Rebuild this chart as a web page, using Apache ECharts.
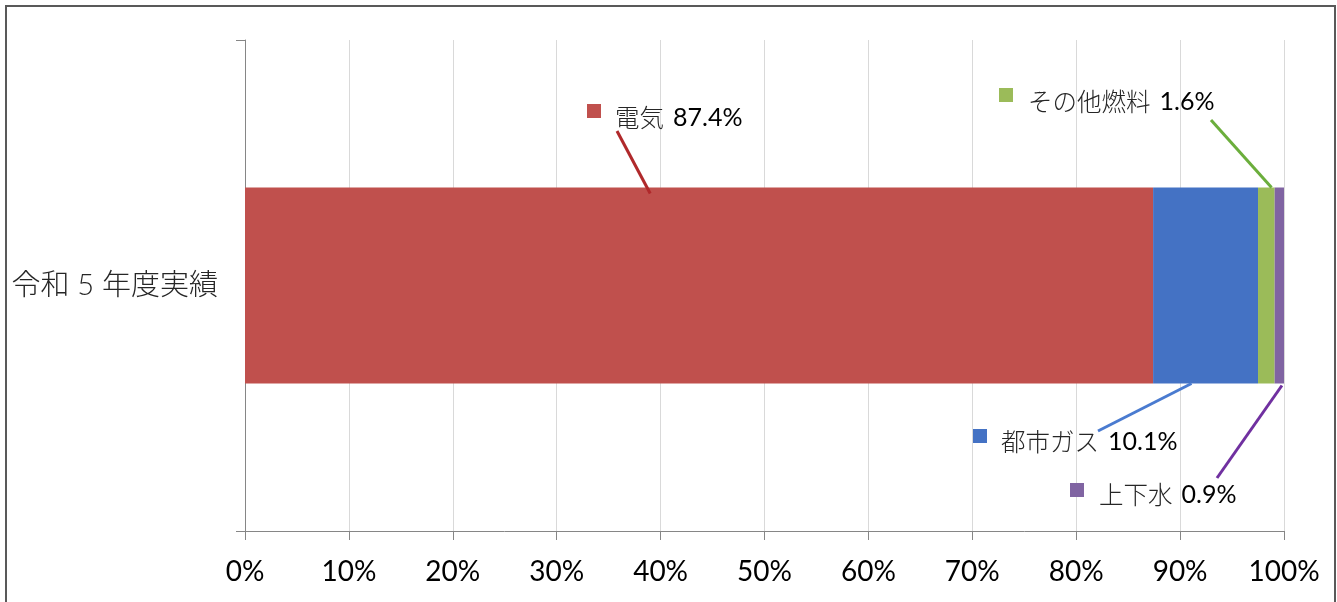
<!DOCTYPE html>
<html>
<head>
<meta charset="utf-8">
<script src="https://cdn.jsdelivr.net/npm/echarts@6/dist/echarts.min.js"></script>
<style>
  html, body { margin: 0; padding: 0; background: #fff; }
  #chart { width: 1337px; height: 602px; }
</style>
</head>
<body>
<div id="chart"></div>
<script>
// ---- data ----
const categories = ['令和 5 年度実績'];
const seriesNames = ['電気', '都市ガス', 'その他燃料', '上下水'];
const seriesValues = [[87.4], [10.1], [1.6], [0.9]];
const seriesColors = ['#C0504D', '#4472C4', '#9BBB59', '#8064A2'];
const leaderColors = ['#B0292B', '#4A7BD0', '#6BAE3C', '#7030A0'];

// ---- callout layout (pixel placement of each label box, and where its leader meets the bar) ----
const BAR_HEIGHT = 196;
const calloutLayout = [
  // marker box left/top, text left/middle, leader start, leader end (axis value, bar edge, inset)
  { mx: 587,  my: 104, tx: 615,  ty: 118, sx: 617,  sy: 131, at: 39.0, edge: 'top',    inset: 6 },
  { mx: 973,  my: 429, tx: 1001, ty: 442, sx: 1098, sy: 431, at: 91.1, edge: 'bottom', inset: 0 },
  { mx: 999,  my: 88,  tx: 1028, ty: 102, sx: 1211, sy: 120, at: 98.8, edge: 'top',    inset: 0 },
  { mx: 1070, my: 483, tx: 1099, ty: 495, sx: 1217, sy: 478, at: 99.8, edge: 'bottom', inset: 2 }
];

const FONT = "Lato, 'Noto Sans CJK JP', sans-serif";
const JP_FONT = "'Noto Sans CJK JP', sans-serif";

const chart = echarts.init(document.getElementById('chart'), null, { renderer: 'canvas' });

const option = {
  animation: false,
  backgroundColor: '#ffffff',
  grid: { left: 245, right: 53, top: 40, bottom: 71, containLabel: false },
  xAxis: {
    type: 'value',
    min: 0,
    max: 100,
    interval: 10,
    axisLine: { show: true, lineStyle: { color: '#868686', width: 1 } },
    axisTick: { show: true, length: 9, lineStyle: { color: '#868686' } },
    splitLine: { show: true, lineStyle: { color: '#D9D9D9', width: 1 } },
    axisLabel: {
      formatter: '{value}%',
      fontFamily: FONT,
      fontSize: 28,
      color: '#000000',
      margin: 27
    }
  },
  yAxis: {
    type: 'category',
    data: categories,
    axisLine: { show: true, lineStyle: { color: '#868686', width: 1 } },
    axisTick: { show: true, length: 9, lineStyle: { color: '#868686' } },
    axisLabel: {
      fontFamily: FONT,
      fontWeight: 300,
      fontSize: 29,
      color: '#262626',
      margin: 27
    }
  },
  series: seriesNames.map((name, i) => ({
    name,
    type: 'bar',
    stack: 'total',
    barWidth: BAR_HEIGHT,
    data: seriesValues[i],
    itemStyle: { color: seriesColors[i] },
    label: { show: false }
  }))
};

chart.setOption(option);

// Callout boxes with leader lines tied to the bar through the axis scales
function buildCallouts() {
  const elements = [];
  // outer chart frame
  elements.push({
    type: 'rect',
    z: 100,
    shape: { x: 6, y: 6, width: 1329, height: 640 },
    style: { fill: 'none', stroke: '#595959', lineWidth: 2 }
  });
  seriesNames.forEach((name, i) => {
    const L = calloutLayout[i];
    const center = chart.convertToPixel({ gridIndex: 0 }, [L.at, 0]);
    const barTop = center[1] - BAR_HEIGHT / 2;
    const barBottom = center[1] + BAR_HEIGHT / 2;
    const ey = L.edge === 'top' ? barTop + L.inset : barBottom + L.inset;
    elements.push({
      type: 'line',
      z: 50,
      shape: { x1: L.sx, y1: L.sy, x2: center[0], y2: ey },
      style: { stroke: leaderColors[i], lineWidth: 3 }
    });
    elements.push({
      type: 'rect',
      z: 50,
      shape: { x: L.mx, y: L.my, width: 14, height: 14 },
      style: { fill: seriesColors[i] }
    });
    elements.push({
      type: 'text',
      z: 50,
      x: L.tx,
      y: L.ty,
      style: {
        text: '{n|' + name + '}{v|' + seriesValues[i][0].toFixed(1) + '%}',
        verticalAlign: 'middle',
        align: 'left',
        rich: {
          n: { fontFamily: JP_FONT, fontWeight: 300, fontSize: 24.5, fill: '#262626' },
          v: { fontFamily: FONT, fontSize: 25, fill: '#000000', padding: [0, 0, 0, 9] }
        }
      }
    });
  });
  chart.setOption({ graphic: { elements } });
}
buildCallouts();
</script>
</body>
</html>
